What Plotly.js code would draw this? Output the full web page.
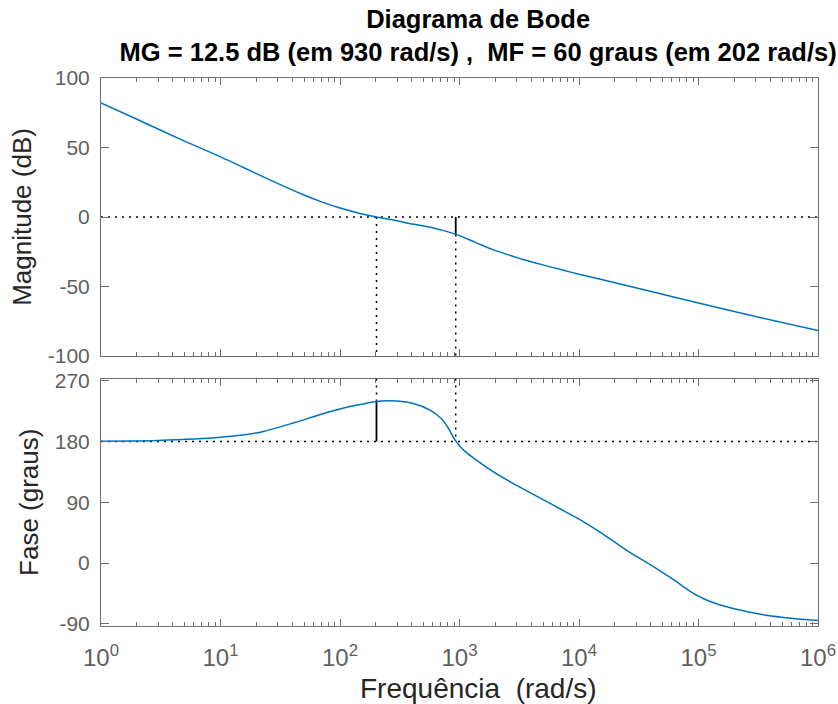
<!DOCTYPE html>
<html>
<head>
<meta charset="utf-8">
<script src="https://cdn.plot.ly/plotly-3.0.1.min.js"></script>
<style>html,body{margin:0;padding:0;background:#fff;}#chart{width:838px;height:704px;}</style>
</head>
<body>
<div id="chart"></div>
<script>
// ---- data ----
const freqMag = [1, 2, 5, 10, 20, 30, 50, 70, 100, 150, 202, 280, 361, 450, 604, 750, 935, 1200, 1486, 1900, 2483, 3400, 4717, 7000, 10190, 20000, 50000, 100000, 300000, 1000000];
const magDb   = [82.1, 70.3, 54.6, 43.3, 31.2, 24.2, 15.8, 10.9, 6.5, 2.4, 0, -2.2, -4.3, -5.8, -7.9, -10.0, -12.5, -16.2, -19.7, -23.5, -26.9, -30.6, -33.9, -37.8, -41.3, -47.3, -55.6, -61.8, -71.6, -81.6];

const freqPhase = [1, 3, 10, 22, 42, 60, 79, 100, 121, 160, 202, 250, 298, 410, 567, 650, 732, 820, 935, 1100, 1393, 2000, 3000, 5000, 7000, 10000, 15000, 25000, 40000, 63600, 80000, 92000, 106000, 122000, 150000, 195000, 270000, 370000, 600000, 1000000];
const phaseDeg  = [180.3, 181.3, 186, 194, 208, 216.5, 223, 228, 231.5, 235.8, 239, 240, 239.6, 236, 226.3, 219, 210.5, 197.5, 180, 166, 152, 133, 115, 94, 80, 65, 46, 19, -3, -26, -38.5, -45.5, -51, -56, -61.5, -67, -72.5, -77, -81.5, -85];

// stability margins (from the title)
const gmDb = 12.5, gmFreq = 930;
const pmDeg = 60, pmFreq = 202;
const titleLines = ['Diagrama de Bode', 'MG = 12.5 dB (em 930 rad/s) ,\u00a0 MF = 60 graus (em 202 rad/s)'];
const xLabel = 'Frequência\u00a0 (rad/s)';

const xTickVals = [1, 10, 100, 1000, 10000, 100000, 1000000];
const xTickText = ['10<sup>0</sup>', '10<sup>1</sup>', '10<sup>2</sup>', '10<sup>3</sup>', '10<sup>4</sup>', '10<sup>5</sup>', '10<sup>6</sup>'];
const magTicks = [-100, -50, 0, 50, 100];
const magTickText = ['-100', '-50', '0', '50', '100'];
const phaseTicks = [-90, 0, 90, 180, 270];
const phaseTickText = ['-90', '0', '90', '180', '270'];
const magRange = [-100, 100];
const phaseRange = [-93, 273];
const xRange = [1, 1000000];

// ---- styling ----
const blue = '#0072BD';
const axisGray = '#6e6e6e';
const labelGray = '#5f5f5f';
const font = 'Liberation Sans, Arial, Helvetica, sans-serif';
const dotLine = {color: '#000', width: 1.5, dash: '2px,5px'};
const solidLine = {color: '#000', width: 1.8};

const pmCurve = 180 + pmDeg;
const gmCurve = -gmDb;

const traces = [
  // guide lines, magnitude panel
  {x: xRange, y: [0, 0], xaxis: 'x', yaxis: 'y', mode: 'lines', line: dotLine},
  {x: [pmFreq, pmFreq], y: [0, magRange[0]], xaxis: 'x', yaxis: 'y', mode: 'lines', line: dotLine},
  {x: [gmFreq, gmFreq], y: [gmCurve, magRange[0]], xaxis: 'x', yaxis: 'y', mode: 'lines', line: dotLine},
  {x: [gmFreq, gmFreq], y: [0, gmCurve], xaxis: 'x', yaxis: 'y', mode: 'lines', line: solidLine},
  // guide lines, phase panel
  {x: xRange, y: [180, 180], xaxis: 'x2', yaxis: 'y2', mode: 'lines', line: dotLine},
  {x: [pmFreq, pmFreq], y: [phaseRange[1], pmCurve], xaxis: 'x2', yaxis: 'y2', mode: 'lines', line: dotLine},
  {x: [pmFreq, pmFreq], y: [pmCurve, 180], xaxis: 'x2', yaxis: 'y2', mode: 'lines', line: solidLine},
  {x: [gmFreq, gmFreq], y: [phaseRange[1], 180], xaxis: 'x2', yaxis: 'y2', mode: 'lines', line: dotLine},
  // responses
  {x: freqMag, y: magDb, xaxis: 'x', yaxis: 'y', mode: 'lines', line: {color: blue, width: 1.5, shape: 'spline', smoothing: 0.7}},
  {x: freqPhase, y: phaseDeg, xaxis: 'x2', yaxis: 'y2', mode: 'lines', line: {color: blue, width: 1.5, shape: 'spline', smoothing: 0.7}}
];

const xBase = {
  type: 'log', range: [0, 6], tickvals: xTickVals, ticktext: xTickText,
  ticks: 'inside', ticklen: 7, tickwidth: 1, tickcolor: axisGray,
  minor: {ticks: 'inside', ticklen: 4, tickcolor: axisGray, dtick: 'D1', showgrid: false},
  showline: true, linecolor: axisGray, linewidth: 1, mirror: 'allticks',
  showgrid: false, zeroline: false,
  tickfont: {family: font, size: 24, color: labelGray},
  ticklabelstandoff: 10
};

const yBase = {
  ticks: 'inside', ticklen: 8, tickcolor: axisGray,
  showline: true, linecolor: axisGray, mirror: 'allticks',
  showgrid: false, zeroline: false,
  tickfont: {family: font, size: 21, color: labelGray},
  ticklabelstandoff: 6
};

const layout = {
  width: 838, height: 704,
  margin: {l: 101, r: 20, t: 78, b: 78},
  paper_bgcolor: '#fff', plot_bgcolor: '#fff',
  showlegend: false,
  title: {
    text: '<b>' + titleLines[0] + '</b><br><b>' + titleLines[1] + '</b>',
    font: {family: font, size: 25.5, color: '#000'},
    x: 0.526, xref: 'paper', xanchor: 'center',
    y: 0.96, yref: 'container', yanchor: 'top'
  },
  xaxis: Object.assign({}, xBase, {domain: [0, 1], anchor: 'y', showticklabels: false, matches: 'x2'}),
  yaxis: Object.assign({}, yBase, {
    domain: [0.4927, 1], range: magRange, tickvals: magTicks, ticktext: magTickText,
    title: {text: 'Magnitude (dB)', font: {family: font, size: 26, color: '#262626'}, standoff: 8}
  }),
  xaxis2: Object.assign({}, xBase, {domain: [0, 1], anchor: 'y2'}),
  yaxis2: Object.assign({}, yBase, {
    domain: [0, 0.4516], range: phaseRange, tickvals: phaseTicks, ticktext: phaseTickText,
    title: {text: 'Fase (graus)', font: {family: font, size: 26, color: '#262626'}, standoff: 8}
  }),
  annotations: [{
    text: xLabel, xref: 'paper', yref: 'paper', x: 0.526, y: -0.114,
    xanchor: 'center', yanchor: 'middle', showarrow: false,
    font: {family: font, size: 28, color: '#262626'}
  }]
};

Plotly.newPlot('chart', traces, layout, {displayModeBar: false, staticPlot: true});
</script>
</body>
</html>
